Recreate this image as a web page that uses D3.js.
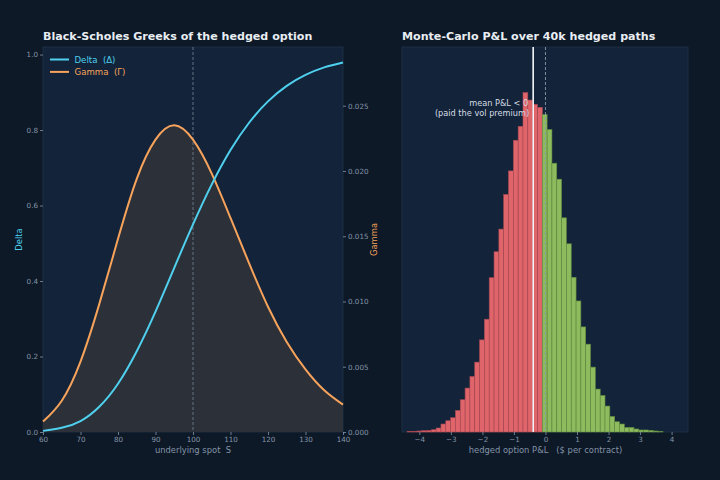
<!DOCTYPE html>
<html>
<head>
<meta charset="utf-8">
<script src="https://cdn.jsdelivr.net/npm/d3@7"></script>
<style>
    body { margin: 0; background: #0d1927; }
    svg text { font-family: "DejaVu Sans", sans-serif; white-space: pre; }
</style>
</head>
<body>
<svg id="chart" width="720" height="480"></svg>
<script>
// left panel: greeks
const spot = [60, 65, 70, 75, 80, 85, 90, 95, 100, 105, 110, 115, 120, 125, 130, 135, 140];
const delta = [0.003, 0.011, 0.029, 0.067, 0.128, 0.214, 0.319, 0.435, 0.550, 0.656, 0.747, 0.820, 0.876, 0.917, 0.946, 0.966, 0.979];
const gamma = [0.0008, 0.0024, 0.0054, 0.0098, 0.0148, 0.0194, 0.0224, 0.0235, 0.0224, 0.0198, 0.0164, 0.0129, 0.0096, 0.0069, 0.0048, 0.0032, 0.0021];
const strike = 100;
const spotTicks = [60, 70, 80, 90, 100, 110, 120, 130, 140];
const deltaTicks = [0, 0.2, 0.4, 0.6, 0.8, 1.0];
const gammaTicks = [0, 0.005, 0.01, 0.015, 0.02, 0.025];

// right panel: histogram of hedged P&L
const binStart = -4.385;
const binWidth = 0.153;
const binCounts = [4, 4, 7, 9, 11, 16, 28, 56, 79, 100, 151, 226, 308, 389, 490, 646, 791, 1082, 1264, 1423,
    1666, 1831, 2046, 2144, 2380, 2328, 2298, 2277, 2226, 2121, 1885, 1773, 1502, 1320, 1085, 919, 737, 616,
    455, 301, 256, 182, 109, 72, 56, 32, 32, 21, 14, 14, 11, 7, 4];
const meanPnl = -0.39;
const pnlTicks = [-4, -3, -2, -1, 0, 1, 2, 3, 4];

const C = {
    bg: "#0d1927",
    panel: "#13243a",
    spine: "#22344a",
    text: "#e8edf2",
    tick: "#8494a8",
    delta: "#4fd0ef",
    gamma: "#f7a35c",
    fill: "#2c3038",
    red: "#e0656b",
    green: "#8dbb5e"
};

const svg = d3.select("#chart");
svg.append("rect").attr("width", 720).attr("height", 480).attr("fill", C.bg);

function panel(x0, x1, y0, y1) {
    svg.append("rect")
        .attr("x", x0).attr("y", y0)
        .attr("width", x1 - x0).attr("height", y1 - y0)
        .attr("fill", C.panel)
        .attr("stroke", C.spine)
        .attr("stroke-width", 0.8);
}

function styleAxis(g) {
    g.select(".domain").remove();
    g.selectAll(".tick line").attr("stroke", C.tick).attr("stroke-width", 0.8);
    g.selectAll(".tick text").attr("fill", C.tick).attr("font-size", 7.2);
}

// ---------- left: greeks ----------
const L = {x0: 43, x1: 343, y0: 47, y1: 432};
panel(L.x0, L.x1, L.y0, L.y1);

const xS = d3.scaleLinear().domain([60, 140]).range([L.x0, L.x1]);
const yD = d3.scaleLinear().domain([0, 1.02]).range([L.y1, L.y0]);
const yG = d3.scaleLinear().domain([0, 0.0295]).range([L.y1, L.y0]);

const pts = spot.map((s, i) => ({s: s, d: delta[i], g: gamma[i]}));

svg.append("path")
    .datum(pts)
    .attr("fill", C.fill)
    .attr("d", d3.area().curve(d3.curveNatural)
        .x(d => xS(d.s)).y0(yG(0)).y1(d => yG(d.g)));

svg.append("line")
    .attr("x1", xS(strike)).attr("x2", xS(strike))
    .attr("y1", L.y0).attr("y2", L.y1)
    .attr("stroke", "#6e7a8a").attr("stroke-width", 0.9)
    .attr("stroke-dasharray", "3,2");

svg.append("path")
    .datum(pts)
    .attr("fill", "none")
    .attr("stroke", C.gamma)
    .attr("stroke-width", 2)
    .attr("d", d3.line().curve(d3.curveNatural).x(d => xS(d.s)).y(d => yG(d.g)));

svg.append("path")
    .datum(pts)
    .attr("fill", "none")
    .attr("stroke", C.delta)
    .attr("stroke-width", 2)
    .attr("d", d3.line().curve(d3.curveNatural).x(d => xS(d.s)).y(d => yD(d.d)));

svg.append("g")
    .attr("transform", `translate(0,${L.y1})`)
    .call(d3.axisBottom(xS).tickValues(spotTicks).tickSize(3).tickPadding(1.5))
    .call(styleAxis);

svg.append("g")
    .attr("transform", `translate(${L.x0},0)`)
    .call(d3.axisLeft(yD).tickValues(deltaTicks).tickFormat(d3.format(".1f")).tickSize(3).tickPadding(2))
    .call(styleAxis);

svg.append("g")
    .attr("transform", `translate(${L.x1},0)`)
    .call(d3.axisRight(yG).tickValues(gammaTicks).tickFormat(d3.format(".3f")).tickSize(3).tickPadding(2))
    .call(styleAxis);

svg.append("text")
    .attr("x", (L.x0 + L.x1) / 2).attr("y", 453)
    .attr("text-anchor", "middle")
    .attr("fill", C.tick).attr("font-size", 8.4)
    .text("underlying spot  S");

svg.append("text")
    .attr("transform", `translate(22,${(L.y0 + L.y1) / 2}) rotate(-90)`)
    .attr("text-anchor", "middle")
    .attr("fill", C.delta).attr("font-size", 8.4)
    .text("Delta");

svg.append("text")
    .attr("transform", `translate(377,${(L.y0 + L.y1) / 2}) rotate(-90)`)
    .attr("text-anchor", "middle")
    .attr("fill", C.gamma).attr("font-size", 8.4)
    .text("Gamma");

const legend = [
    {label: "Delta  (Δ)", color: C.delta},
    {label: "Gamma  (Γ)", color: C.gamma}
];
legend.forEach((item, i) => {
    const y = 59.5 + i * 12.4;
    svg.append("line")
        .attr("x1", 50).attr("x2", 69)
        .attr("y1", y).attr("y2", y)
        .attr("stroke", item.color).attr("stroke-width", 2);
    svg.append("text")
        .attr("x", 74.5).attr("y", y + 3)
        .attr("fill", item.color).attr("font-size", 8.6)
        .text(item.label);
});

svg.append("text")
    .attr("x", L.x0).attr("y", 39.5)
    .attr("fill", C.text).attr("font-size", 11.1).attr("font-weight", "bold")
    .text("Black-Scholes Greeks of the hedged option");

// ---------- right: P&L histogram ----------
const R = {x0: 402, x1: 688, y0: 47, y1: 432};
panel(R.x0, R.x1, R.y0, R.y1);

const xP = d3.scaleLinear().domain([-4.55, 4.52]).range([R.x0, R.x1]);
const yC = d3.scaleLinear().domain([0, 2700]).range([R.y1, R.y0]);

const bins = binCounts.map((c, i) => ({
    lo: binStart + i * binWidth,
    hi: binStart + (i + 1) * binWidth,
    count: c
}));

svg.append("g")
    .selectAll("rect")
    .data(bins)
    .join("rect")
    .attr("x", d => xP(d.lo))
    .attr("width", d => xP(d.hi) - xP(d.lo))
    .attr("y", d => yC(d.count))
    .attr("height", d => yC(0) - yC(d.count))
    .attr("fill", d => d.hi > 0 ? C.green : C.red)
    .attr("stroke", d => d.hi > 0 ? "#5f8a3e" : "#a84852")
    .attr("stroke-width", 0.6);

svg.append("line")
    .attr("x1", xP(0)).attr("x2", xP(0))
    .attr("y1", R.y0).attr("y2", R.y1)
    .attr("stroke", "#8b97a6").attr("stroke-width", 0.9)
    .attr("stroke-dasharray", "3,2");

svg.append("line")
    .attr("x1", xP(meanPnl)).attr("x2", xP(meanPnl))
    .attr("y1", R.y0).attr("y2", R.y1)
    .attr("stroke", "#f4f6f8").attr("stroke-width", 1.6);

const note = svg.append("text")
    .attr("text-anchor", "end")
    .attr("fill", "#d5dce4").attr("font-size", 8.2);
note.append("tspan").attr("x", xP(meanPnl) - 5).attr("y", 105.5).text("mean P&L < 0");
note.append("tspan").attr("x", xP(meanPnl) - 4).attr("y", 116).text("(paid the vol premium)");

svg.append("g")
    .attr("transform", `translate(0,${R.y1})`)
    .call(d3.axisBottom(xP).tickValues(pnlTicks).tickFormat(d3.format("d")).tickSize(3).tickPadding(1.5))
    .call(styleAxis);

svg.append("text")
    .attr("x", xP(0)).attr("y", 453)
    .attr("text-anchor", "middle")
    .attr("fill", C.tick).attr("font-size", 8.4)
    .text("hedged option P&L   ($ per contract)");

svg.append("text")
    .attr("x", R.x0).attr("y", 39.5)
    .attr("fill", C.text).attr("font-size", 11.1).attr("font-weight", "bold")
    .text("Monte-Carlo P&L over 40k hedged paths");
</script>
</body>
</html>
